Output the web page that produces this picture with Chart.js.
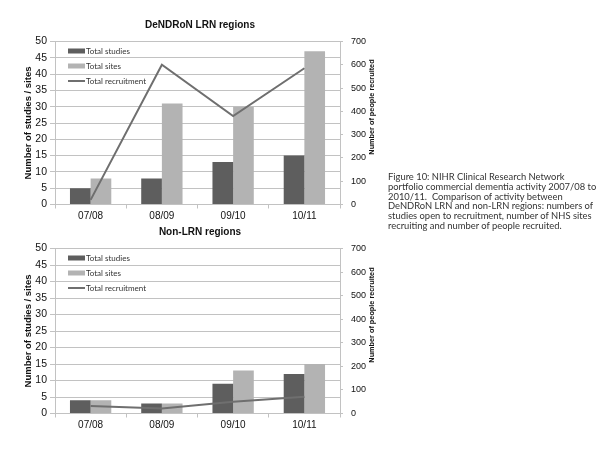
<!DOCTYPE html>
<html>
<head>
<meta charset="utf-8">
<script src="https://cdn.jsdelivr.net/npm/chart.js@4.4.1/dist/chart.umd.min.js"></script>
<style>
  body { margin: 0; background: #fff; width: 600px; height: 450px; position: relative; overflow: hidden; }
  canvas { position: absolute; left: 0; }
  #top { top: 0; }
  #bottom { top: 207px; }
  #caption {
    position: absolute; left: 388px; top: 172px;
    font-family: Lato, sans-serif; font-size: 9.4px; line-height: 9.8px; color: #333;
    white-space: nowrap;
  }
</style>
</head>
<body>
<canvas id="top" width="400" height="225"></canvas>
<canvas id="bottom" width="400" height="227"></canvas>
<div id="caption">
Figure 10: NIHR Clinical Research Network<br>
portfolio commercial dementia activity 2007/08 to<br>
2010/11.&nbsp; Comparison of activity between<br>
DeNDRoN LRN and non-LRN regions: numbers of<br>
studies open to recruitment, number of NHS sites<br>
recruiting and number of people recruited.
</div>

<script>
var categories = ['07/08', '08/09', '09/10', '10/11']

// DeNDRoN LRN regions
var lrnStudies = [5, 8, 13, 15]
var lrnSites = [8, 31, 30, 47]
var lrnRecruitment = [20, 600, 380, 585]

// Non-LRN regions
var nonStudies = [4, 3, 9, 12]
var nonSites = [4, 3, 13, 15]
var nonRecruitment = [32, 21, 50, 71]

var leftTicks = [0, 5, 10, 15, 20, 25, 30, 35, 40, 45, 50]
var rightTicks = [0, 100, 200, 300, 400, 500, 600, 700]
var rightTitle = 'Number of people recruited'

var DARK = '#5e5e5e'
var LIGHT = '#b3b3b3'
var LINE = '#6f6f6f'
var GRID = '#c2c2c2'

// legend drawn inside the plot, top-left
var insideLegend = {
  id: 'insideLegend',
  afterDatasetsDraw: function(chart) {
    var ctx = chart.ctx
    var area = chart.chartArea
    ctx.save()
    ctx.font = '8px Lato'
    ctx.textBaseline = 'middle'
    chart.data.datasets.forEach(function(ds, i) {
      var y = area.top + 9.5 + i * 15
      if (ds.type == 'line') {
        ctx.strokeStyle = ds.borderColor
        ctx.lineWidth = 2
        ctx.beginPath()
        ctx.moveTo(68, y)
        ctx.lineTo(85, y)
        ctx.stroke()
      } else {
        ctx.fillStyle = ds.backgroundColor
        ctx.fillRect(68, y - 2.5, 17, 5)
      }
      ctx.fillStyle = '#333'
      ctx.fillText(ds.label, 86, y)
    })
    ctx.restore()
  }
}

// right axis title reads bottom-to-top, chart.js would turn it the other way
var rightAxisTitle = {
  id: 'rightAxisTitle',
  afterDraw: function(chart) {
    var ctx = chart.ctx
    var area = chart.chartArea
    ctx.save()
    ctx.translate(372, (area.top + area.bottom) / 2 - 16)
    ctx.rotate(-Math.PI / 2)
    ctx.font = 'bold 7.3px "Liberation Sans"'
    ctx.fillStyle = '#111'
    ctx.textAlign = 'center'
    ctx.textBaseline = 'middle'
    ctx.fillText(rightTitle, 0, 0)
    ctx.restore()
  }
}

function makeChart(id, title, studies, sites, recruitment) {
  var ctx = document.getElementById(id).getContext('2d')
  return new Chart(ctx, {
    type: 'bar',
    data: {
      labels: categories,
      datasets: [
        { label: 'Total studies', data: studies, backgroundColor: DARK, yAxisID: 'y', order: 1 },
        { label: 'Total sites', data: sites, backgroundColor: LIGHT, yAxisID: 'y', order: 1 },
        { type: 'line', label: 'Total recruitment', data: recruitment, borderColor: LINE, borderWidth: 2,
          pointRadius: 0, tension: 0, fill: false, yAxisID: 'y1', order: 0 }
      ]
    },
    options: {
      responsive: false,
      animation: false,
      events: [],
      layout: { padding: 0 },
      datasets: { bar: { categoryPercentage: 0.58, barPercentage: 1.0 } },
      plugins: {
        legend: { display: false },
        tooltip: { enabled: false },
        title: {
          display: true, text: title, color: '#111',
          font: { family: 'Liberation Sans', size: 10, weight: 'bold' },
          padding: { top: 19, bottom: 10.5 }
        }
      },
      scales: {
        x: {
          grid: { display: true, drawOnChartArea: false, tickLength: 4, color: GRID },
          border: { color: GRID },
          ticks: { color: '#111', padding: 2, font: { family: 'Liberation Sans', size: 10 } },
          afterFit: function(s) { s.height = 20.5 }
        },
        y: {
          position: 'left', min: 0, max: 50,
          afterBuildTicks: function(s) { s.ticks = leftTicks.map(function(v) { return { value: v } }) },
          grid: { color: GRID, tickLength: 5 },
          border: { color: GRID },
          ticks: { color: '#111', padding: 3, font: { family: 'Liberation Sans', size: 10.5 } },
          title: { display: true, text: 'Number of studies / sites', color: '#111',
                   font: { family: 'Liberation Sans', size: 9.5, weight: 'bold' }, padding: { top: 23, bottom: 0 } },
          afterFit: function(s) { s.width = 55 }
        },
        y1: {
          position: 'right', min: 0, max: 700,
          afterBuildTicks: function(s) { s.ticks = rightTicks.map(function(v) { return { value: v } }) },
          grid: { drawOnChartArea: false, color: GRID, tickLength: 3 },
          border: { color: GRID },
          ticks: { color: '#111', padding: 8, font: { family: 'Liberation Sans', size: 9 } },
          afterFit: function(s) { s.width = 60 }
        }
      }
    },
    plugins: [insideLegend, rightAxisTitle]
  })
}

makeChart('top', 'DeNDRoN LRN regions', lrnStudies, lrnSites, lrnRecruitment)
makeChart('bottom', 'Non-LRN regions', nonStudies, nonSites, nonRecruitment)
</script>
</body>
</html>
